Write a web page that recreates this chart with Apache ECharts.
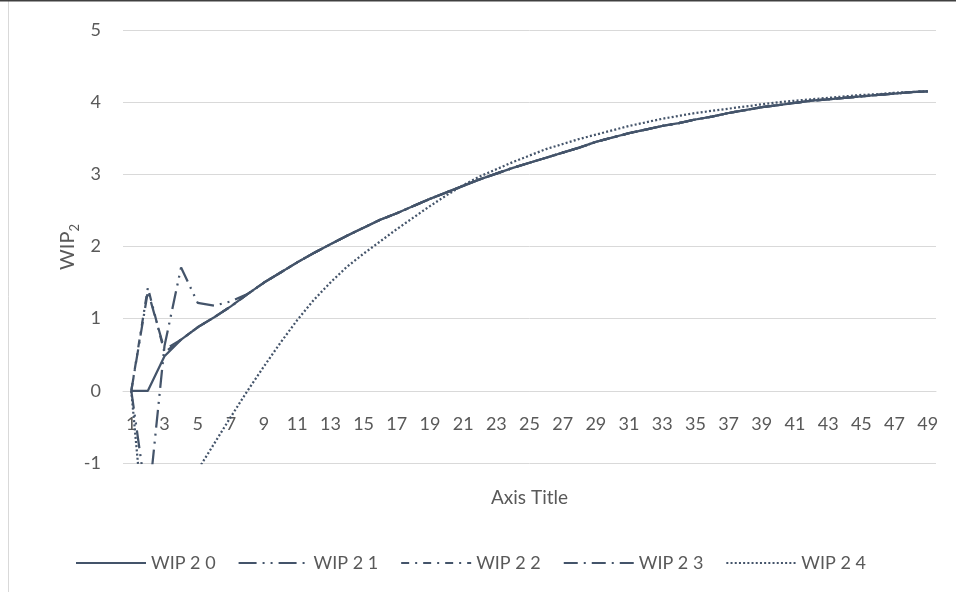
<!DOCTYPE html>
<html>
<head>
<meta charset="utf-8">
<script src="https://cdn.jsdelivr.net/npm/echarts@6/dist/echarts.min.js"></script>
<style>
html,body{margin:0;padding:0;background:#fff;}
#chart{width:956px;height:592px;}
</style>
</head>
<body>
<div id="chart"></div>
<script>
var categories = ['1','2','3','4','5','6','7','8','9','10','11','12','13','14','15','16','17','18','19','20','21','22','23','24','25','26','27','28','29','30','31','32','33','34','35','36','37','38','39','40','41','42','43','44','45','46','47','48','49'];

var yTicks = [-1, 0, 1, 2, 3, 4, 5];

var seriesNames = ['WIP 2 0', 'WIP 2 1', 'WIP 2 2', 'WIP 2 3', 'WIP 2 4'];

var wip20 = [0, 0, 0.48, 0.71, 0.88, 1.02, 1.17, 1.34, 1.50, 1.64,
             1.78, 1.91, 2.03, 2.15, 2.26, 2.37, 2.46, 2.56, 2.66, 2.75,
             2.84, 2.93, 3.01, 3.09, 3.16, 3.23, 3.30, 3.37, 3.45, 3.51,
             3.57, 3.62, 3.67, 3.71, 3.76, 3.80, 3.85, 3.89, 3.93, 3.96,
             3.99, 4.02, 4.04, 4.06, 4.08, 4.10, 4.12, 4.14, 4.15];

var wip21 = [0, -1.63, 0.62, 1.71, 1.22, 1.18, 1.24, 1.34, 1.50, 1.64,
             1.78, 1.91, 2.03, 2.15, 2.26, 2.37, 2.46, 2.56, 2.66, 2.75,
             2.84, 2.93, 3.01, 3.09, 3.16, 3.23, 3.30, 3.37, 3.45, 3.51,
             3.57, 3.62, 3.67, 3.71, 3.76, 3.80, 3.85, 3.89, 3.93, 3.96,
             3.99, 4.02, 4.04, 4.06, 4.08, 4.10, 4.12, 4.14, 4.15];

var wip22 = [0, 1.43, 0.53, 0.71, 0.88, 1.02, 1.17, 1.34, 1.50, 1.64,
             1.78, 1.91, 2.03, 2.15, 2.26, 2.37, 2.46, 2.56, 2.66, 2.75,
             2.84, 2.93, 3.01, 3.09, 3.16, 3.23, 3.30, 3.37, 3.45, 3.51,
             3.57, 3.62, 3.67, 3.71, 3.76, 3.80, 3.85, 3.89, 3.93, 3.96,
             3.99, 4.02, 4.04, 4.06, 4.08, 4.10, 4.12, 4.14, 4.15];

var wip23 = [0, 1.38, 0.57, 0.71, 0.88, 1.02, 1.17, 1.34, 1.50, 1.64,
             1.78, 1.91, 2.03, 2.15, 2.26, 2.37, 2.46, 2.56, 2.66, 2.75,
             2.84, 2.93, 3.01, 3.09, 3.16, 3.23, 3.30, 3.37, 3.45, 3.51,
             3.57, 3.62, 3.67, 3.71, 3.76, 3.80, 3.85, 3.89, 3.93, 3.96,
             3.99, 4.02, 4.04, 4.06, 4.08, 4.10, 4.12, 4.14, 4.15];

var wip24 = [0, -2.5, -2.3, -1.7, -1.10, -0.73, -0.36, 0.00, 0.34, 0.67,
             0.98, 1.26, 1.50, 1.72, 1.90, 2.07, 2.24, 2.40, 2.56, 2.71,
             2.85, 2.97, 3.07, 3.17, 3.26, 3.35, 3.42, 3.49, 3.55, 3.61,
             3.67, 3.72, 3.77, 3.81, 3.85, 3.88, 3.91, 3.94, 3.97, 4.00,
             4.02, 4.04, 4.06, 4.08, 4.10, 4.11, 4.13, 4.14, 4.15];

var yTitleMain = 'WIP';
var yTitleSub = '2';

var seriesData = [wip20, wip21, wip22, wip23, wip24];
var dashes = ['solid', [18, 6, 2, 6, 2, 6], [8, 6, 2, 6], [14, 6, 2, 6], [2, 2.2]];
var widths = [2.25, 2.25, 2.25, 2.25, 2.25];

var lineColor = '#44546a';
var textColor = '#595959';
var gridColor = '#d9d9d9';
var fontFam = 'Lato, "Liberation Sans", sans-serif';

var chart = echarts.init(document.getElementById('chart'), null, {renderer: 'canvas'});

var series = seriesNames.map(function (name, i) {
  return {
    name: name,
    type: 'line',
    data: seriesData[i],
    symbol: 'none',
    showSymbol: false,
    clip: true,
    smooth: false,
    animation: false,
    z: 3,
    lineStyle: {color: lineColor, width: widths[i], type: dashes[i], cap: 'butt'},
    itemStyle: {color: lineColor}
  };
});

var option = {
  animation: false,
  backgroundColor: '#ffffff',
  textStyle: {fontFamily: fontFam},
  grid: {left: 123, right: 20, top: 30, bottom: 129, containLabel: false},
  xAxis: {
    type: 'category',
    data: categories,
    boundaryGap: true,
    position: 'bottom',
    offset: -72.2,
    z: 1,
    name: 'Axis Title',
    nameLocation: 'middle',
    nameGap: 98,
    nameMoveOverlap: false,
    nameTextStyle: {color: textColor, fontSize: 19, fontFamily: fontFam},
    axisLine: {show: true, onZero: false, lineStyle: {color: gridColor, width: 1}},
    axisTick: {show: false},
    axisLabel: {interval: 1, color: textColor, fontSize: 18, fontFamily: fontFam, margin: 24}
  },
  yAxis: {
    type: 'value',
    min: yTicks[0],
    max: yTicks[yTicks.length - 1],
    interval: 1,
    axisLine: {show: false},
    axisTick: {show: false},
    splitLine: {show: true, lineStyle: {color: gridColor, width: 1}},
    axisLabel: {color: textColor, fontSize: 18, fontFamily: fontFam, margin: 22}
  },
  legend: {
    data: seriesNames,
    left: 70,
    top: 549,
    itemWidth: 70,
    itemHeight: 14,
    itemGap: 22,
    itemStyle: {opacity: 0},
    textStyle: {color: textColor, fontSize: 18, fontFamily: fontFam}
  },
  graphic: [
    {type: 'rect', shape: {x: 8.5, y: 0.5, width: 1000, height: 1000}, style: {fill: null, stroke: '#d9d9d9', lineWidth: 1}, silent: true, z: -1},
    {type: 'rect', shape: {x: 0, y: 0, width: 956, height: 1.5}, style: {fill: '#404040'}, silent: true},
    {
      type: 'text',
      x: 68,
      y: 247,
      rotation: Math.PI / 2,
      silent: true,
      style: {
        text: '{a|' + yTitleMain + '}{b|' + yTitleSub + '}',
        align: 'center',
        verticalAlign: 'middle',
        rich: {
          a: {fontSize: 20, fill: textColor, fontFamily: fontFam, lineHeight: 26},
          b: {fontSize: 13, fill: textColor, fontFamily: fontFam, lineHeight: 26, verticalAlign: 'bottom', padding: [10, 0, 0, 0]}
        }
      }
    }
  ],
  series: series
};

chart.setOption(option);
</script>
</body>
</html>
